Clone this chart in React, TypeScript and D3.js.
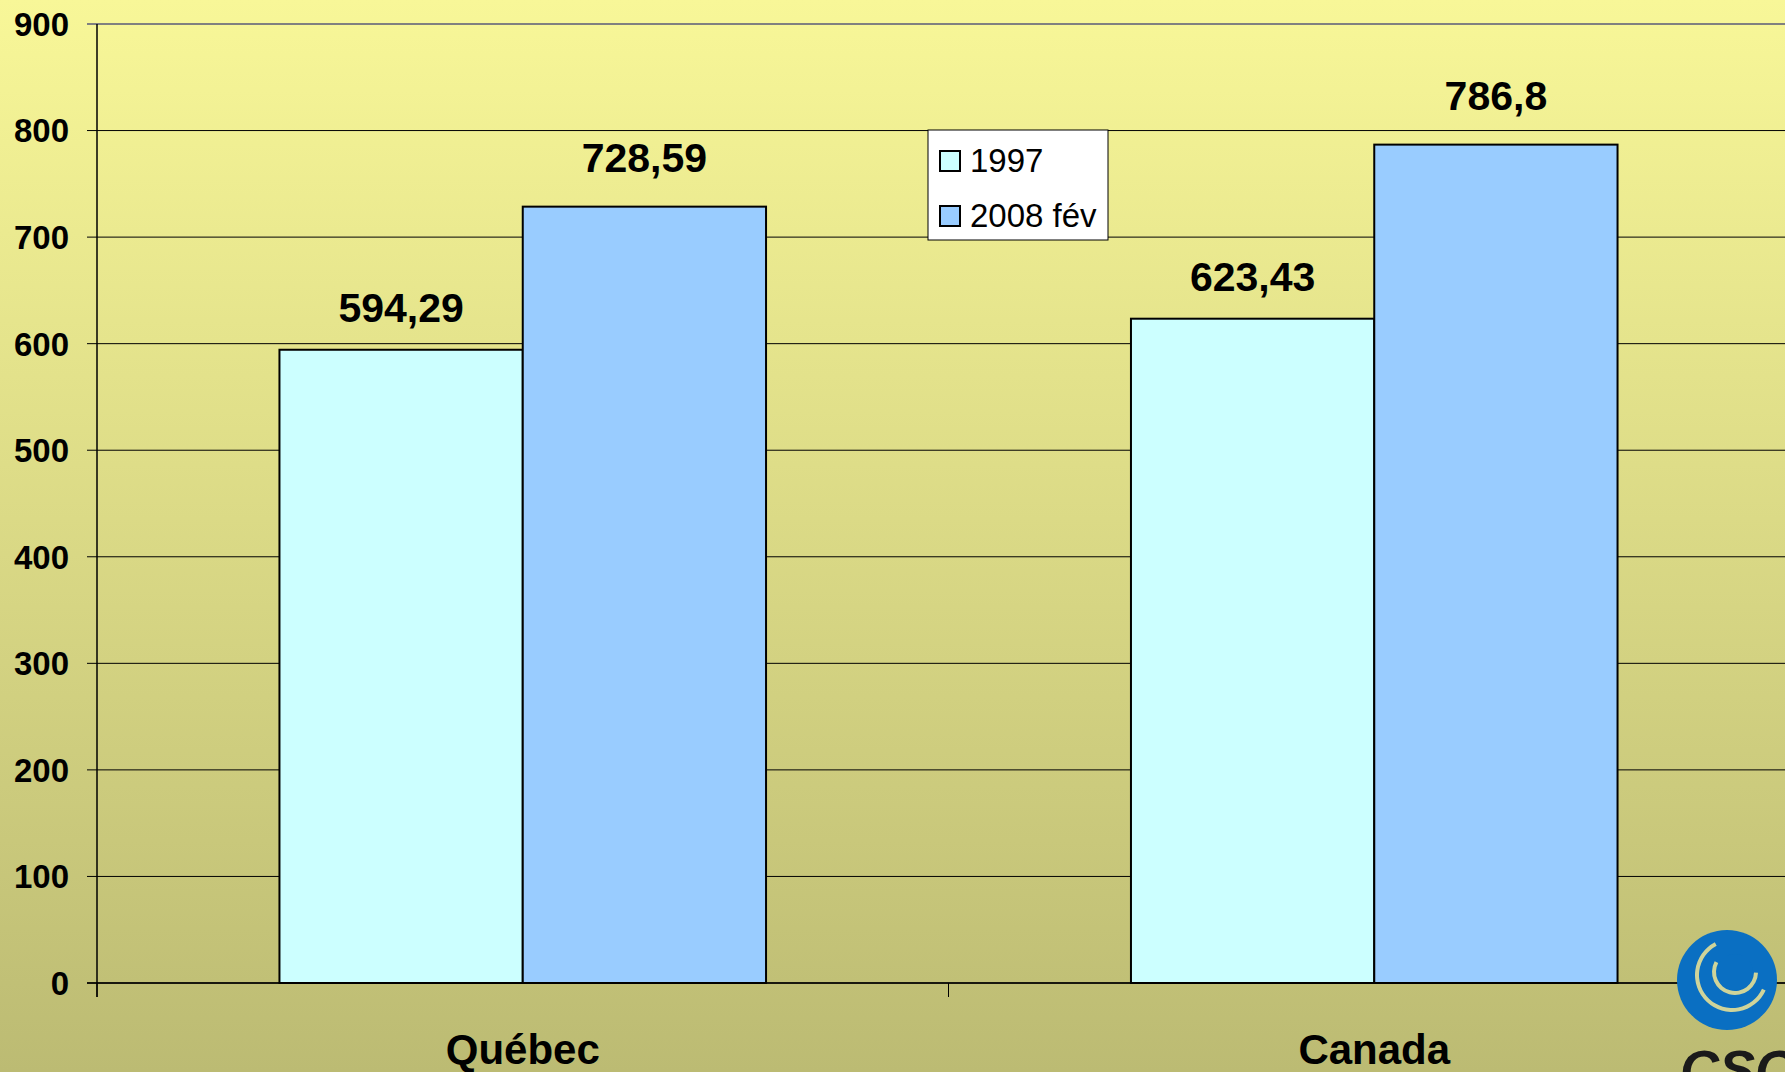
import * as d3 from 'd3';

const categories = ['Québec', 'Canada'];
const seriesNames = ['1997', '2008 fév'];
const values1997 = [594.29, 623.43];
const values2008 = [728.59, 786.8];
const valueLabels1997 = ['594,29', '623,43'];
const valueLabels2008 = ['728,59', '786,8'];
const yTicks = [0, 100, 200, 300, 400, 500, 600, 700, 800, 900];

const W = 1785;
const H = 1072;
const left = 97;
const plotRight = 1800;
const top = 24;
const bottom = 983;

const font = '"Liberation Sans", Arial, sans-serif';
const colors = ['#ccffff', '#99ccff'];
const labelOffsets = [28, 35];

export default function App() {
  const x0 = d3.scaleBand<string>().domain(categories).range([left, plotRight]).paddingInner(0).paddingOuter(0);
  const x1 = d3.scaleBand<string>().domain(seriesNames).range([0, x0.bandwidth()]).paddingOuter(0.75).paddingInner(0);
  const y = d3.scaleLinear().domain([0, 900]).range([bottom, top]);

  const series = [
    { name: seriesNames[0], values: values1997, labels: valueLabels1997 },
    { name: seriesNames[1], values: values2008, labels: valueLabels2008 },
  ];

  const logoBlue = '#0a6fc2';
  const logoGap = '#cfd49a';
  const bgBottom = '#bcbb73';

  return (
    <svg width={W} height={H} style={{ position: 'absolute', left: 0, top: 0, display: 'block' }}>
      <defs>
        <linearGradient id="bg" x1="0" y1="0" x2="0" y2="1">
          <stop offset="0%" stopColor="#f8f798" />
          <stop offset="100%" stopColor={bgBottom} />
        </linearGradient>
      </defs>
      <rect x={0} y={0} width={W} height={H} fill="url(#bg)" />

      {/* gridlines */}
      {yTicks.map((t) => (
        <line
          key={t}
          x1={left - 10}
          x2={W}
          y1={y(t)}
          y2={y(t)}
          stroke={t === 900 ? '#808080' : '#000'}
          strokeWidth={t === 900 ? 2 : 1}
        />
      ))}
      {yTicks.map((t) => (
        <text
          key={'tl' + t}
          x={69}
          y={y(t)}
          dy="0.36em"
          textAnchor="end"
          fontFamily={font}
          fontWeight="bold"
          fontSize={33}
        >
          {t}
        </text>
      ))}

      {/* bars */}
      {series.map((s, si) =>
        categories.map((c, ci) => {
          const bx = (x0(c) ?? 0) + (x1(s.name) ?? 0);
          const by = y(s.values[ci]);
          return (
            <g key={s.name + c}>
              <rect
                x={bx}
                y={by}
                width={x1.bandwidth()}
                height={bottom - by}
                fill={colors[si]}
                stroke="#000"
                strokeWidth={2}
              />
              <text
                x={bx + x1.bandwidth() / 2}
                y={by - labelOffsets[si]}
                textAnchor="middle"
                fontFamily={font}
                fontWeight="bold"
                fontSize={41}
              >
                {s.labels[ci]}
              </text>
            </g>
          );
        })
      )}

      {/* axes */}
      <line x1={left} x2={left} y1={top} y2={bottom + 14} stroke="#000" strokeWidth={1.5} />
      <line x1={left - 10} x2={W} y1={bottom} y2={bottom} stroke="#000" strokeWidth={1.5} />
      {[left, x0('Canada') ?? 0].map((tx, i) => (
        <line key={'xt' + i} x1={tx} x2={tx} y1={bottom} y2={bottom + 14} stroke="#000" strokeWidth={1} />
      ))}
      {categories.map((c) => (
        <text
          key={'xl' + c}
          x={(x0(c) ?? 0) + x0.bandwidth() / 2}
          y={1064}
          textAnchor="middle"
          fontFamily={font}
          fontWeight="bold"
          fontSize={42}
        >
          {c}
        </text>
      ))}

      {/* legend */}
      <g>
        <rect x={928} y={130} width={180} height={110} fill="#fff" stroke="#000" strokeWidth={1} />
        {seriesNames.map((n, i) => (
          <g key={'lg' + n} transform={`translate(940, ${151 + i * 55})`}>
            <rect x={0} y={0} width={20} height={20} fill={colors[i]} stroke="#000" strokeWidth={2} />
            <text x={30} y={21} fontFamily={font} fontSize={33}>
              {n}
            </text>
          </g>
        ))}
      </g>

      {/* logo */}
      <g>
        <circle cx={1727} cy={980} r={50} fill={logoBlue} />
        <path
          d={d3.arc()({ innerRadius: 33, outerRadius: 37, startAngle: 2.0, endAngle: 5.8 }) ?? ''}
          transform="translate(1732,975)"
          fill={logoGap}
        />
        <path
          d={d3.arc()({ innerRadius: 19, outerRadius: 23, startAngle: 1.6, endAngle: 5.2 }) ?? ''}
          transform="translate(1735,972)"
          fill={logoGap}
        />
        <circle cx={1735} cy={972} r={18} fill={logoBlue} />
        <text
          x={1680}
          y={1088}
          fontFamily={font}
          fontWeight="bold"
          fontStyle="italic"
          fontSize={54}
          fill="#1a1a1a"
        >
          CSQ
        </text>
      </g>
    </svg>
  );
}
